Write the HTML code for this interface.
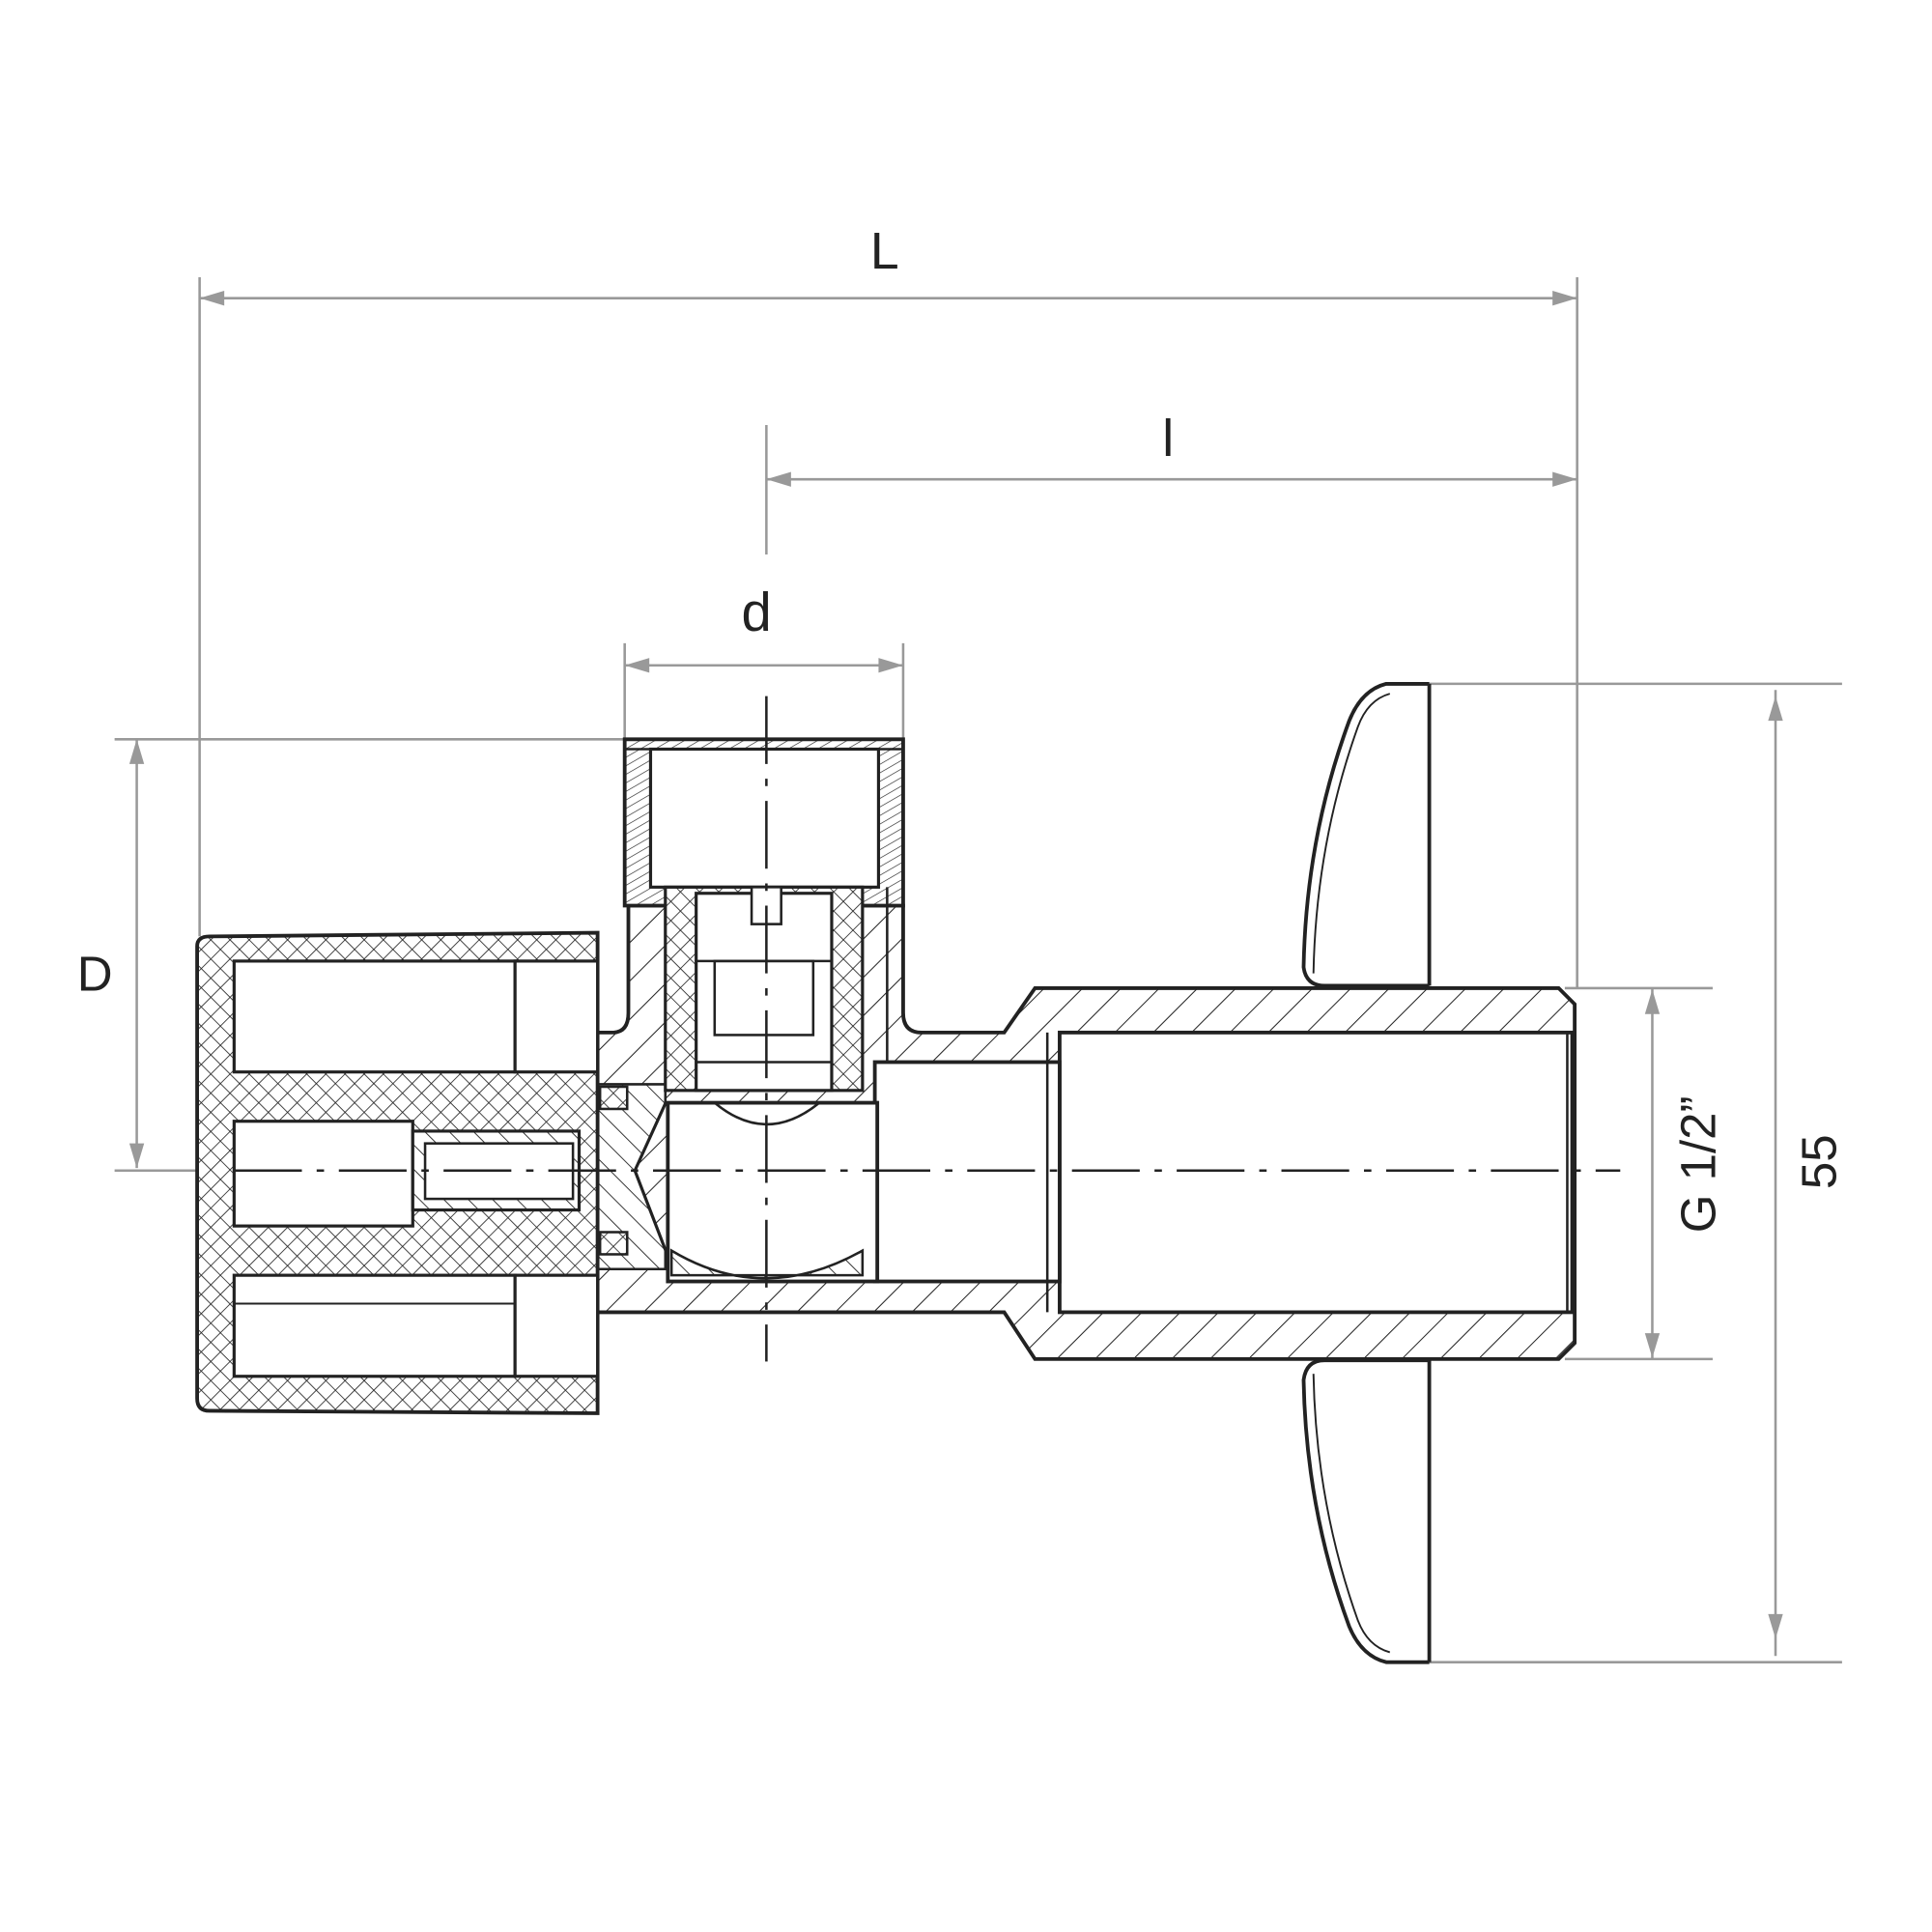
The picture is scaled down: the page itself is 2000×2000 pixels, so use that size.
<!DOCTYPE html>
<html><head><meta charset="utf-8"><style>
html,body{margin:0;padding:0;background:#fff;}
svg{display:block;}
text{font-family:"Liberation Sans",sans-serif;fill:#222;}
</style></head><body>
<svg width="2000" height="2000" viewBox="0 0 1568 1568" xmlns="http://www.w3.org/2000/svg">
<defs>
<pattern id="h" width="22" height="22" patternUnits="userSpaceOnUse" patternTransform="rotate(45)">
<rect width="22" height="22" fill="#fff"/><line x1="0" y1="0" x2="0" y2="22" stroke="#222" stroke-width="1.6"/></pattern>
<pattern id="h2" width="14" height="14" patternUnits="userSpaceOnUse" patternTransform="rotate(-45)">
<rect width="14" height="14" fill="#fff"/><line x1="0" y1="0" x2="0" y2="14" stroke="#222" stroke-width="1.4"/></pattern>
<pattern id="x" width="11" height="11" patternUnits="userSpaceOnUse" patternTransform="rotate(45)">
<rect width="11" height="11" fill="#fff"/><line x1="0" y1="0" x2="0" y2="11" stroke="#222" stroke-width="1.3"/><line x1="0" y1="0" x2="11" y2="0" stroke="#222" stroke-width="1.3"/></pattern>
<pattern id="t" width="6" height="6" patternUnits="userSpaceOnUse" patternTransform="rotate(60)">
<rect width="6" height="6" fill="#fff"/><line x1="0" y1="0" x2="0" y2="6" stroke="#222" stroke-width="1"/></pattern>
</defs>

<g stroke="#999" stroke-width="2" fill="none">
<line x1="162" y1="225" x2="162" y2="760"/><line x1="1280" y1="225" x2="1280" y2="802"/>
<line x1="162" y1="242" x2="1280" y2="242"/>
<line x1="622" y1="345" x2="622" y2="450"/>
<line x1="622" y1="389" x2="1280" y2="389"/>
<line x1="507" y1="522" x2="507" y2="600"/><line x1="733" y1="522" x2="733" y2="605"/>
<line x1="507" y1="540" x2="733" y2="540"/>
<line x1="93" y1="600" x2="520" y2="600"/><line x1="93" y1="950" x2="160" y2="950"/>
<line x1="111" y1="600" x2="111" y2="948"/>
<line x1="1160" y1="555" x2="1495" y2="555"/><line x1="1160" y1="1349" x2="1495" y2="1349"/>
<line x1="1441" y1="560" x2="1441" y2="1344"/>
<line x1="1270" y1="802" x2="1390" y2="802"/><line x1="1270" y1="1103" x2="1390" y2="1103"/>
<line x1="1341" y1="802" x2="1341" y2="1103"/>
</g>
<g fill="#999">
<polygon points="162,242 182,236 182,248"/><polygon points="1280,242 1260,236 1260,248"/>
<polygon points="622,389 642,383 642,395"/><polygon points="1280,389 1260,383 1260,395"/>
<polygon points="507,540 527,534 527,546"/><polygon points="733,540 713,534 713,546"/>
<polygon points="111,600 105,620 117,620"/><polygon points="111,948 105,928 117,928"/>
<polygon points="1441,565 1435,585 1447,585"/><polygon points="1441,1330 1435,1310 1447,1310"/>
<polygon points="1341,803 1335,823 1347,823"/><polygon points="1341,1102 1335,1082 1347,1082"/>
</g>
<text x="718" y="218" font-size="42" text-anchor="middle">L</text>
<text x="948" y="370" font-size="42" text-anchor="middle">l</text>
<text x="614" y="512" font-size="44" text-anchor="middle">d</text>
<text x="77" y="804" font-size="40" text-anchor="middle">D</text>
<text transform="translate(1490,943) rotate(-90)" font-size="40" text-anchor="middle">55</text>
<text transform="translate(1392,945) rotate(-90)" font-size="40" text-anchor="middle">G 1/2”</text>

<g stroke="#222" stroke-width="3" fill="#fff">
<path d="M1160,555 L1125,555 Q1105,560 1095,585 Q1060,680 1058,785 Q1060,800 1075,800 L1160,800"/>
<path d="M1160,1349 L1125,1349 Q1105,1344 1095,1320 Q1060,1225 1058,1120 Q1060,1104 1075,1104 L1160,1104"/>
<path d="M1160,555 L1160,800 M1160,1104 L1160,1349" />
</g>
<g stroke="#222" stroke-width="1.5" fill="none">
<path d="M1128,563 Q1110,568 1102,590 Q1068,685 1066,790"/>
<path d="M1128,1341 Q1110,1336 1102,1315 Q1068,1220 1066,1115"/>
</g>

<path d="M428,838 L497,838 Q510,838 510,822 L510,735 L733,735 L733,822 Q733,838 748,838 L815,838 L840,802 L1265,802 L1278,815 L1278,1090 L1265,1103 L840,1103 L815,1065 L428,1065 Z" fill="url(#h)" stroke="#222" stroke-width="3"/>
<rect x="860" y="838" width="416" height="227" fill="#fff" stroke="#222" stroke-width="3"/>
<line x1="1272" y1="838" x2="1272" y2="1065" stroke="#222" stroke-width="2"/>
<rect x="710" y="862" width="150" height="178" fill="#fff" stroke="#222" stroke-width="3"/>
<line x1="850" y1="838" x2="850" y2="1065" stroke="#222" stroke-width="2"/>
<rect x="542" y="895" width="170" height="145" fill="#fff" stroke="#222" stroke-width="3"/>
<path d="M545,1015 Q620,1060 700,1015 L700,1035 L545,1035 Z" fill="url(#h2)" stroke="#222" stroke-width="2"/>
<path d="M580,895 Q622,930 665,895" fill="none" stroke="#222" stroke-width="2"/>
<path d="M540,895 L515,950 L540,1015" fill="none" stroke="#222" stroke-width="3"/>
<path d="M428,880 L540,880 L540,895 L515,950 L540,1015 L540,1030 L428,1030 L428,1010 L470,975 L475,925 L428,890 Z" fill="url(#h2)" stroke="#222" stroke-width="2"/>

<path d="M507,600 L733,600 L733,735 L507,735 Z" fill="url(#t)" stroke="#222" stroke-width="3"/>
<rect x="528" y="608" width="185" height="112" fill="#fff" stroke="#222" stroke-width="2.5"/>
<line x1="507" y1="608" x2="733" y2="608" stroke="#222" stroke-width="2"/>
<rect x="540" y="720" width="160" height="165" fill="url(#x)" stroke="#222" stroke-width="2.5"/>
<rect x="565" y="725" width="110" height="160" fill="#fff" stroke="#222" stroke-width="2.5"/>
<rect x="580" y="780" width="80" height="60" fill="#fff" stroke="#222" stroke-width="2"/>
<line x1="565" y1="780" x2="675" y2="780" stroke="#222" stroke-width="2"/>
<line x1="565" y1="862" x2="675" y2="862" stroke="#222" stroke-width="2"/>
<rect x="610" y="720" width="24" height="30" fill="#fff" stroke="#222" stroke-width="2"/>
<line x1="720" y1="720" x2="720" y2="862" stroke="#222" stroke-width="2"/>

<g stroke="#222" stroke-width="2" fill="url(#x)">
<rect x="448" y="882" width="22" height="18"/><rect x="487" y="882" width="22" height="18"/>
<rect x="448" y="1000" width="22" height="18"/><rect x="487" y="1000" width="22" height="18"/>
</g>

<path d="M160,768 Q160,760 170,760 L485,757 L485,1147 L170,1145 Q160,1145 160,1135 Z" fill="url(#x)" stroke="#222" stroke-width="3"/>
<g fill="#fff" stroke="#222" stroke-width="2.5">
<rect x="190" y="780" width="228" height="90"/>
<rect x="190" y="910" width="145" height="85"/>
<rect x="190" y="1035" width="228" height="82"/>
<rect x="418" y="780" width="67" height="90"/>
<rect x="418" y="1035" width="67" height="82"/>
</g>
<rect x="335" y="918" width="135" height="64" fill="url(#h2)" stroke="#222" stroke-width="2.5"/>
<rect x="345" y="928" width="120" height="45" fill="#fff" stroke="#222" stroke-width="2"/>
<line x1="190" y1="1058" x2="418" y2="1058" stroke="#222" stroke-width="1.5"/>

<g stroke="#222" stroke-width="2" stroke-dasharray="55,12,6,12" fill="none">
<line x1="190" y1="950" x2="1315" y2="950"/>
<line x1="622" y1="565" x2="622" y2="1105"/>
</g>
</svg>
</body></html>
